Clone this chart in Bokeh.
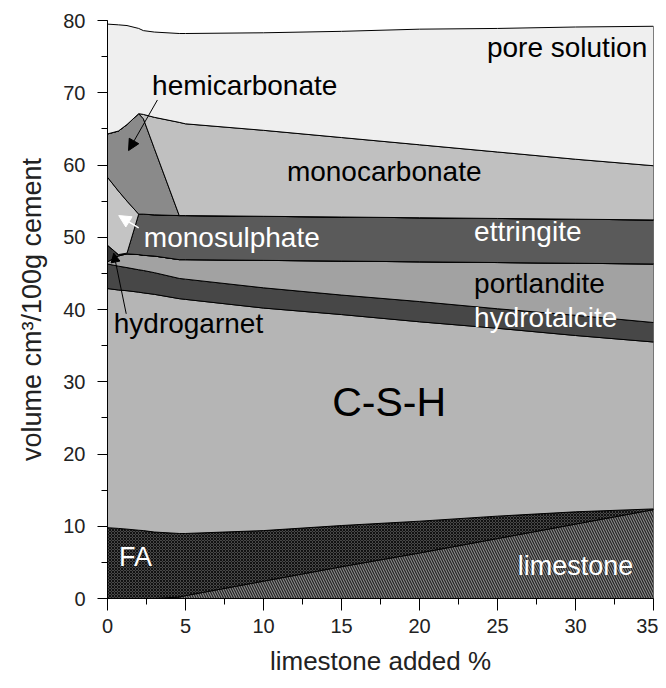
from bokeh.plotting import figure
from bokeh.models import Range1d, SingleIntervalTicker, Arrow, NormalHead, ColumnDataSource
from bokeh.core.properties import value
from bokeh.embed import file_html
from bokeh.resources import INLINE

# ---------------- data (cumulative upper boundary of each phase, cm3/100 g cement)
limestone_added = [0, 0.7, 1.25, 2.0, 2.3, 3.0, 4.6, 5, 10, 15, 20, 25, 30, 35]

limestone_top    = [0, 0, 0, 0, 0, 0, 0.2, 0.4, 2.4, 4.4, 6.3, 8.3, 10.3, 12.3]
fa_top           = [9.8, 9.7, 9.6, 9.45, 9.4, 9.2, 9.0, 9.0, 9.4, 10.1, 10.7, 11.4, 12.0, 12.4]
csh_top          = [42.9, 42.7, 42.6, 42.4, 42.3, 42.1, 41.5, 41.4, 40.2, 39.3, 38.3, 37.4, 36.4, 35.5]
hydrotalcite_top = [46.3, 46.0, 45.8, 45.5, 45.4, 45.1, 44.3, 44.2, 43.0, 42.0, 41.1, 40.1, 39.2, 38.2]
portlandite_top  = [46.6, 47.4, 47.7, 47.6, 47.5, 47.4, 46.9, 46.9, 46.8, 46.7, 46.6, 46.5, 46.4, 46.3]
hydrogarnet_top  = [48.9, 47.6, 47.7, 47.6, 47.5, 47.4, 46.9, 46.9, 46.8, 46.7, 46.6, 46.5, 46.4, 46.3]
ettringite_top   = [48.9, 47.6, 47.8, 53.2, 53.2, 53.1, 53.0, 53.0, 52.9, 52.8, 52.7, 52.6, 52.5, 52.4]
monosulphate_top = [58.3, 56.4, 55.0, 53.2, 53.2, 53.1, 53.0, 53.0, 52.9, 52.8, 52.7, 52.6, 52.5, 52.4]
hemicarb_top     = [64.3, 64.7, 65.6, 67.1, 66.4, 62.3, 53.0, 53.0, 52.9, 52.8, 52.7, 52.6, 52.5, 52.4]
monocarb_top     = [64.3, 64.7, 65.6, 67.1, 67.0, 66.6, 65.9, 65.7, 64.8, 63.8, 62.8, 61.8, 60.8, 59.9]
pore_top         = [79.5, 79.4, 79.3, 78.9, 78.6, 78.4, 78.2, 78.2, 78.3, 78.5, 78.8, 78.9, 79.1, 79.2]

x_ticks = [0, 5, 10, 15, 20, 25, 30, 35]
y_ticks = [0, 10, 20, 30, 40, 50, 60, 70, 80]

label_names = ["pore solution", "hemicarbonate", "monocarbonate", "monosulphate",
               "ettringite", "portlandite", "hydrotalcite", "hydrogarnet",
               "C-S-H", "FA", "limestone"]

# ---------------- figure
FONT = "Liberation Sans"
p = figure(width=658, height=688, output_backend="svg", toolbar_location=None,
           x_range=Range1d(0, 35), y_range=Range1d(0, 80),
           min_border_left=107, min_border_right=5, min_border_top=20, min_border_bottom=90)
p.outline_line_color = None
p.xgrid.visible = False
p.ygrid.visible = False
p.background_fill_color = "white"

zeros = [0] * len(limestone_added)
layers = [
    (zeros, limestone_top, dict(fill_color="#8a8a8a", hatch_pattern="left_diagonal_line",
                                hatch_color="#222222", hatch_scale=5, hatch_weight=1.2)),
    (limestone_top, fa_top, dict(fill_color="#484848", hatch_pattern="diagonal_cross",
                                 hatch_color="#111111", hatch_scale=3, hatch_weight=1)),
    (fa_top, csh_top, dict(fill_color="#b5b5b5")),
    (csh_top, hydrotalcite_top, dict(fill_color="#474747")),
    (hydrotalcite_top, portlandite_top, dict(fill_color="#a2a2a2")),
    (portlandite_top, hydrogarnet_top, dict(fill_color="#3c3c3c")),
    (hydrogarnet_top, ettringite_top, dict(fill_color="#5a5a5a")),
    (ettringite_top, monosulphate_top, dict(fill_color="#c4c4c4")),
    (monosulphate_top, hemicarb_top, dict(fill_color="#8a8a8a")),
    (hemicarb_top, monocarb_top, dict(fill_color="#c0c0c0")),
    (monocarb_top, pore_top, dict(fill_color="#efefef")),
]
for lower, upper, style in layers:
    xs = list(limestone_added) + list(reversed(limestone_added))
    ys = list(upper) + list(reversed(lower))
    p.patch(xs, ys, line_color="black", line_width=1, **style)

# ---------------- labels
lab_x = [34.6, 2.86, 11.5, 2.33, 23.5, 23.5, 23.5, 0.4, 14.4, 0.73, 26.3]
lab_y = [76.3, 71.0, 59.1, 50.0, 50.8, 43.6, 38.85, 38.1, 27.2, 5.7, 4.5]
lab_align = ["right"] + ["left"] * 10
lab_color = ["black", "black", "black", "white", "white", "black", "white", "black",
             "black", "white", "white"]
lab_size = ["28px"] * 8 + ["41px"] + ["27px", "27px"]
src = ColumnDataSource(dict(x=lab_x, y=lab_y, t=label_names, a=lab_align,
                            c=lab_color, s=lab_size))
p.text(x="x", y="y", text="t", text_align="a", text_color="c", text_font_size="s",
       text_baseline="alphabetic", text_font=value(FONT), source=src)

# ---------------- arrows
p.add_layout(Arrow(end=NormalHead(size=11, fill_color="black", line_color="black"),
                   x_start=3.2, y_start=69.0, x_end=1.35, y_end=62.0,
                   line_color="black", line_width=1))
p.add_layout(Arrow(end=NormalHead(size=12, fill_color="white", line_color="white"),
                   x_start=2.0, y_start=51.3, x_end=0.72, y_end=53.0,
                   line_color="white", line_width=1.5))
p.add_layout(Arrow(end=NormalHead(size=9, fill_color="black", line_color="black"),
                   x_start=1.2, y_start=39.4, x_end=0.4, y_end=47.8,
                   line_color="black", line_width=1))

# ---------------- axes
p.xaxis.ticker = SingleIntervalTicker(interval=5, num_minor_ticks=2)
p.yaxis.ticker = SingleIntervalTicker(interval=10, num_minor_ticks=2)
for ax in (p.xaxis[0], p.yaxis[0]):
    ax.axis_line_color = "black"
    ax.major_tick_line_color = "black"
    ax.minor_tick_line_color = "black"
    ax.major_tick_in = 0
    ax.minor_tick_in = 0
    ax.major_label_text_font = FONT
    ax.major_label_text_font_size = "20px"
    ax.major_label_text_color = "#222222"
    ax.axis_label_text_font = FONT
    ax.axis_label_text_font_style = "normal"
    ax.axis_label_text_color = "#222222"
p.xaxis.major_tick_out = 12
p.xaxis.minor_tick_out = 6
p.yaxis.major_tick_out = 10
p.yaxis.minor_tick_out = 6
p.xaxis.major_label_standoff = 8
p.yaxis.major_label_standoff = 12
p.xaxis.axis_label = "limestone added %"
p.yaxis.axis_label = "volume cm\u00b3/100g cement"
p.xaxis.axis_label_text_font_size = "26px"
p.yaxis.axis_label_text_font_size = "27px"
p.xaxis.axis_label_standoff = 10
p.yaxis.axis_label_standoff = 13

open("out.html", "w").write(file_html(p, INLINE))
